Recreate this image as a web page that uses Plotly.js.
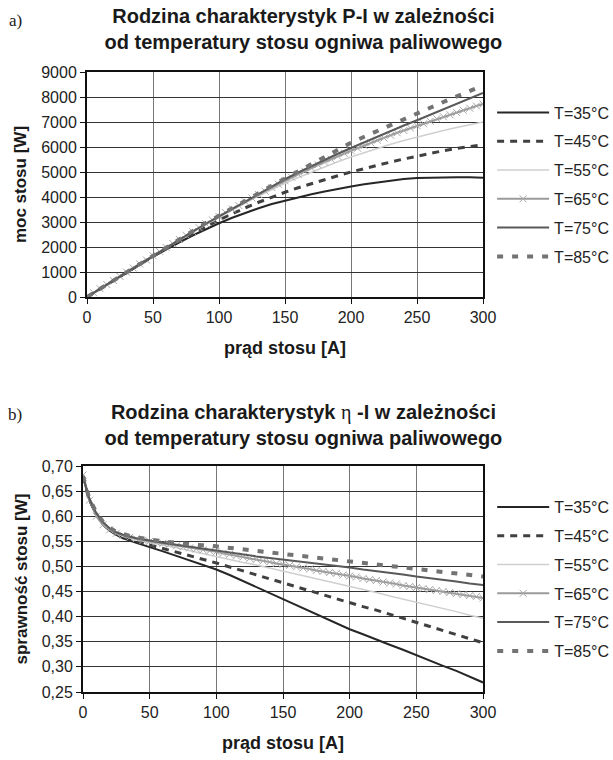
<!DOCTYPE html>
<html><head><meta charset="utf-8">
<script src="https://cdn.plot.ly/plotly-3.0.1.min.js"></script>
<style>body{margin:0;background:#fff}#a,#b{width:613px;height:380px}</style>
</head><body><div id="a"></div><div id="b"></div>
<script>
const seriesNames = ['T=35°C','T=45°C','T=55°C','T=65°C','T=75°C','T=85°C'];

// ---- chart a) P-I ----
const currentA = [0,10,20,30,40,50,60,70,80,90,100,110,120,130,140,150,160,170,180,190,200,210,220,230,240,250,260,270,280,290,300];
const currentA65 = [0,5,10,15,20,25,30,35,40,45,50,55,60,65,70,75,80,85,90,95,100,105,110,115,120,125,130,135,140,145,150,155,160,165,170,175,180,185,190,195,200,205,210,215,220,225,230,235,240,245,250,255,260,265,270,275,280,285,290,295,300];
const p35 = [0,330,660,980,1300,1610,1910,2190,2460,2710,2950,3170,3370,3550,3720,3860,3990,4110,4220,4330,4420,4510,4590,4660,4720,4760,4780,4790,4790,4790,4770];
const p45 = [0,330,660,990,1310,1630,1940,2240,2530,2810,3080,3330,3570,3790,4000,4190,4370,4540,4700,4850,5000,5140,5270,5400,5520,5640,5750,5850,5940,6020,6090];
const p55 = [0,330,660,990,1320,1650,1970,2290,2600,2900,3200,3490,3770,4040,4300,4550,4780,5000,5210,5410,5600,5780,5950,6110,6260,6400,6530,6660,6780,6900,7000];
const p65 = [0,170,330,500,660,820,990,1160,1320,1480,1650,1820,1980,2140,2300,2470,2620,2770,2930,3080,3220,3380,3520,3660,3810,3960,4100,4230,4380,4510,4650,4790,4910,5030,5160,5290,5400,5510,5630,5750,5850,5950,6060,6170,6270,6360,6470,6570,6660,6760,6850,6930,7030,7130,7210,7290,7380,7470,7550,7640,7720];
const p75 = [0,330,660,990,1320,1650,1980,2300,2620,2930,3230,3540,3840,4140,4430,4710,4980,5240,5490,5730,5960,6190,6420,6640,6860,7070,7290,7500,7720,7940,8160];
const p85 = [0,330,660,990,1320,1650,1980,2310,2640,2960,3250,3560,3860,4160,4450,4740,5030,5310,5600,5890,6170,6410,6650,6880,7110,7340,7570,7800,8020,8240,8460];

// ---- chart b) eta-I ----
const currentB = [0,2,4,6,8,10,15,20,25,30,40,50,60,70,80,90,100,110,120,130,140,150,160,170,180,190,200,210,220,230,240,250,260,270,280,290,300];
const currentB65 = currentA65;
const e35 = [0.680,0.657,0.638,0.624,0.612,0.602,0.583,0.571,0.563,0.556,0.547,0.539,0.530,0.521,0.512,0.503,0.494,0.483,0.471,0.459,0.447,0.435,0.423,0.411,0.399,0.387,0.375,0.365,0.354,0.344,0.334,0.323,0.313,0.302,0.292,0.281,0.269];
const e45 = [0.680,0.658,0.640,0.626,0.614,0.604,0.585,0.573,0.565,0.559,0.550,0.543,0.536,0.529,0.522,0.515,0.507,0.499,0.491,0.484,0.476,0.468,0.460,0.452,0.444,0.436,0.428,0.420,0.413,0.405,0.397,0.389,0.381,0.373,0.365,0.356,0.348];
const e55 = [0.680,0.658,0.640,0.627,0.615,0.605,0.586,0.574,0.566,0.561,0.553,0.547,0.542,0.537,0.531,0.526,0.520,0.514,0.508,0.503,0.497,0.491,0.485,0.479,0.473,0.467,0.461,0.455,0.448,0.441,0.435,0.428,0.422,0.416,0.410,0.403,0.397];
const e65 = [0.682,0.632,0.600,0.583,0.573,0.566,0.562,0.558,0.555,0.552,0.550,0.548,0.546,0.544,0.541,0.539,0.537,0.535,0.533,0.531,0.529,0.526,0.524,0.521,0.519,0.516,0.514,0.511,0.509,0.506,0.504,0.502,0.499,0.497,0.495,0.492,0.490,0.488,0.486,0.483,0.481,0.479,0.476,0.474,0.472,0.469,0.467,0.465,0.462,0.460,0.458,0.456,0.454,0.452,0.450,0.448,0.446,0.444,0.442,0.440,0.437];
const e75 = [0.680,0.659,0.641,0.628,0.616,0.606,0.588,0.576,0.568,0.563,0.556,0.551,0.547,0.543,0.539,0.535,0.531,0.527,0.524,0.520,0.517,0.514,0.511,0.507,0.504,0.501,0.498,0.494,0.491,0.487,0.484,0.480,0.477,0.473,0.470,0.466,0.463];
const e85 = [0.680,0.659,0.642,0.629,0.617,0.607,0.589,0.577,0.569,0.564,0.558,0.553,0.550,0.547,0.544,0.542,0.540,0.537,0.534,0.530,0.527,0.524,0.521,0.519,0.516,0.514,0.511,0.508,0.505,0.501,0.498,0.495,0.492,0.489,0.486,0.483,0.480];

const styles = [
  {line:{color:'#262626',width:2}},
  {line:{color:'#404040',width:3,dash:'7px,6px'}},
  {line:{color:'#cfcfcf',width:1.5}},
  {line:{color:'#9a9a9a',width:2}, mode:'lines+markers', marker:{symbol:'x-thin',size:7,line:{color:'#a8a8a8',width:1}}},
  {line:{color:'#595959',width:2}},
  {line:{color:'#737373',width:4,dash:'6px,9px'}}
];

function makeTraces(xs, ys) {
  return ys.map((y, i) => Object.assign({
    type:'scatter', mode:'lines', x: xs[i], y: y, name: seriesNames[i],
    legendgroup: 'g'+i
  }, styles[i]));
}

const FONT = 'Liberation Sans, Arial, sans-serif';
function axisBase(grid) {
  return {
    showline:true, mirror:true, linecolor:'#111', linewidth:2,
    ticks:'outside', ticklen:5, tickcolor:'#111', tickwidth:1,
    showgrid:true, gridcolor:grid, gridwidth:1, zeroline:false,
    tickfont:{family:FONT,size:16,color:'#222'}
  };
}

function makeLayout(o) {
  return {
    width:613, height:380,
    margin:{l:o.l, r:o.r, t:o.t, b:o.b, autoexpand:false},
    paper_bgcolor:'#fff', plot_bgcolor:'#fff',
    separators:', ',
    title:{text:o.title, xref:'container', x:0.495, yref:'container', y:o.ty, yanchor:'top',
      font:{family:FONT,size:20,color:'#1a1a1a'}},
    xaxis:Object.assign(axisBase('#777'), {range:[0,300], dtick:50, tick0:0,
      title:{text:'<b>prąd stosu [A]</b>', standoff:16, font:{family:FONT,size:18,color:'#1a1a1a'}}}),
    yaxis:Object.assign(axisBase('#333'), o.yaxis, {ticklabelstandoff:0,
      title:{text:o.ytitle, standoff:10, font:{family:FONT,size:17,color:'#1a1a1a'}}}),
    showlegend:true,
    legend:{x:1.023, xanchor:'left', y:0.5, yanchor:'middle', itemwidth:52,
      tracegroupgap:5, font:{family:FONT,size:16,color:'#222'}, bgcolor:'rgba(0,0,0,0)'},
    annotations:[{text:o.label, xref:'paper', yref:'paper', x:o.lx, y:o.ly, xanchor:'center', yanchor:'middle',
      showarrow:false, font:{family:'Liberation Serif, Times New Roman, serif', size:17, color:'#1a1a1a'}}]
  };
}

const layoutA = makeLayout({
  l:87, r:130, t:72, b:83, ty:0.94,
  title:'<b>Rodzina charakterystyk P-I w zależności<br>od temperatury stosu ogniwa paliwowego</b>',
  yaxis:{range:[0,9000], dtick:1000, tick0:0, tickformat:'d'},
  ytitle:'<b>moc stosu [W]</b>', label:'a)', lx:-0.18, ly:1.23
});
const layoutB = makeLayout({
  l:83, r:130, t:86, b:68, ty:0.898,
  title:'<b>Rodzina charakterystyk </b><span style="font-family:Liberation Serif">η</span><b> -I w zależności<br>od temperatury stosu ogniwa paliwowego</b>',
  yaxis:{range:[0.25,0.70], dtick:0.05, tick0:0.25, tickformat:'.2f'},
  ytitle:'<b>sprawność stosu [W]</b>', label:'b)', lx:-0.17, ly:1.23
});

Plotly.newPlot('a', makeTraces([currentA,currentA,currentA,currentA65,currentA,currentA],[p35,p45,p55,p65,p75,p85]), layoutA, {staticPlot:true});
Plotly.newPlot('b', makeTraces([currentB,currentB,currentB,currentB65,currentB,currentB],[e35,e45,e55,e65,e75,e85]), layoutB, {staticPlot:true});
</script></body></html>
